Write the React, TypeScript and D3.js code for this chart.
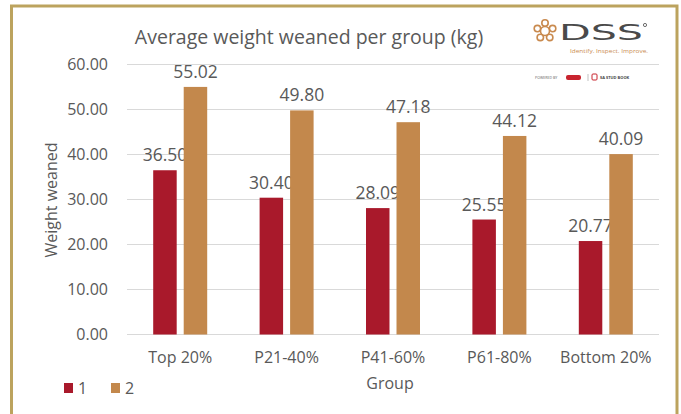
import React from 'react'
import * as d3 from 'd3'

// chart values
const groups = ['Top 20%', 'P21-40%', 'P41-60%', 'P61-80%', 'Bottom 20%']
const seriesNames = ['1', '2']
const series1 = [36.5, 30.4, 28.09, 25.55, 20.77]
const series2 = [55.02, 49.8, 47.18, 44.12, 40.09]
const yTicks = [0, 10, 20, 30, 40, 50, 60]

const colors = ['#A9192B', '#C3884C']
const textGray = '#595959'
const font = '"Open Sans", sans-serif'

export default function App() {
  const W = 681, H = 414
  const margin = { top: 64.5, right: 22, bottom: 79.5, left: 127 }
  const innerW = W - margin.left - margin.right
  const innerH = H - margin.top - margin.bottom

  const x0 = d3.scaleBand().domain(groups).range([0, innerW]).padding(0)
  const x1 = d3.scaleBand().domain(seriesNames).range([-27, 27]).paddingInner(0.23)
  const y = d3.scaleLinear().domain([0, 60]).range([innerH, 0])

  const values = [series1, series2]

  return (
    <svg width={W} height={H} style={{ position: 'absolute', left: 0, top: 0, fontFamily: font }}>
      <rect x={0} y={0} width={W} height={H} fill="#fff" />
      {/* gold frame */}
      <path d="M11.5,420 L11.5,6 L677,6 L677,420" fill="none" stroke="#BCA35E" strokeWidth={3} />

      <text x={309} y={44} textAnchor="middle" fontSize={19.5} fill={textGray}>
        Average weight weaned per group (kg)
      </text>

      {/* logo, approximate */}
      <g transform="translate(545,31)" fill="none" stroke="#C98A4E" strokeWidth={1.6}>
        {d3.range(5).map(i => {
          const a = -Math.PI / 2 + i * 2 * Math.PI / 5
          return <circle key={i} cx={8 * Math.cos(a)} cy={8 * Math.sin(a)} r={3.2} />
        })}
        <circle cx={0} cy={0} r={4.5} />
      </g>
      <text x={559} y={40} fontSize={21} fill="#4a4a4a" textLength={84} lengthAdjust="spacingAndGlyphs"
        style={{ fontFamily: '"DejaVu Sans", sans-serif' }}>DSS</text>
      <circle cx={645} cy={25} r={1.6} fill="none" stroke="#4a4a4a" strokeWidth={0.8} />
      <text x={570} y={53} fontSize={4.5} fill="#C98A4E" textLength={78} lengthAdjust="spacingAndGlyphs">
        Identify. Inspect. Improve.
      </text>
      <text x={535} y={79} fontSize={3.6} fill="#666">POWERED BY</text>
      <rect x={566} y={75} width={15} height={5} rx={2} fill="#C8242F" />
      <line x1={588} x2={588} y1={74} y2={81} stroke="#999" strokeWidth={0.6} />
      <rect x={592} y={74} width={5} height={6} rx={1} fill="none" stroke="#C8242F" strokeWidth={1} />
      <text x={600} y={79} fontSize={4} fontWeight={700} fill="#444">SA STUD BOOK</text>

      <g transform={`translate(${margin.left},${margin.top})`}>
        {yTicks.map(t => (
          <g key={t}>
            <line x1={0} x2={innerW} y1={y(t)} y2={y(t)} stroke="#D9D9D9" strokeWidth={1} />
            <text x={-19} y={y(t)} dy="0.35em" textAnchor="end" fontSize={16} fill={textGray}>
              {t.toFixed(2)}
            </text>
          </g>
        ))}

        {groups.map((g, gi) => (
          <g key={g} transform={`translate(${x0(g)! + x0.bandwidth() / 2},0)`}>
            {seriesNames.map((s, si) => {
              const v = values[si][gi]
              const bx = x1(s)!
              return (
                <g key={s}>
                  <rect x={bx} y={y(v)} width={x1.bandwidth()} height={innerH - y(v)} fill={colors[si]} />
                  <text x={bx + x1.bandwidth() / 2} y={y(v) - 9} textAnchor="middle" fontSize={17.5} fill={textGray}>
                    {v.toFixed(2)}
                  </text>
                </g>
              )
            })}
            <text x={0} y={innerH + 28} textAnchor="middle" fontSize={16} fill={textGray}>{g}</text>
          </g>
        ))}
      </g>

      <text x={390} y={389} textAnchor="middle" fontSize={16} fill={textGray}>Group</text>
      <text transform="translate(57,200) rotate(-90)" textAnchor="middle" fontSize={16} fill={textGray}>
        Weight weaned
      </text>

      {/* legend */}
      {seriesNames.map((s, i) => (
        <g key={s} transform={`translate(${64 + i * 47},388)`}>
          <rect x={0} y={-5} width={9} height={10} fill={colors[i]} />
          <text x={14} y={0} dy="0.36em" fontSize={16} fill={textGray}>{s}</text>
        </g>
      ))}
    </svg>
  )
}
